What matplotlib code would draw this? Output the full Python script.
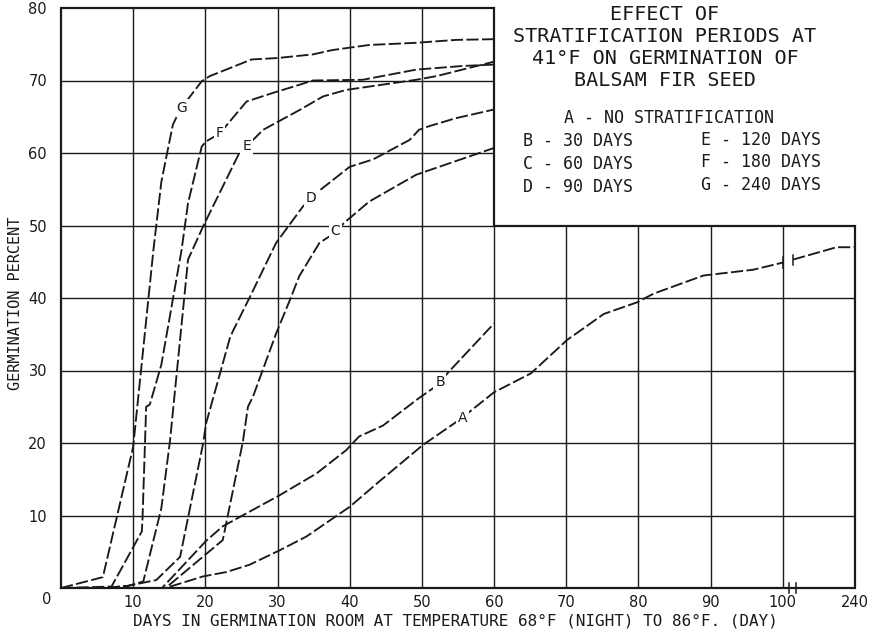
import numpy as np
import matplotlib
matplotlib.use("Agg")
import matplotlib.pyplot as plt

# ---------------- data (days, germination percent) ----------------
days_A = [0, 14.5, 19.7, 22.9, 26.1, 30.3, 34, 40, 44.1, 50.1, 55.2, 60, 65.1, 70.1,
          75.2, 79.8, 82.1, 89, 95.9, 101]
pct_A = [0, 0, 1.6, 2.2, 3.2, 5.2, 7.1, 11.2, 14.7, 19.7, 23.2, 27, 29.6, 34.2,
         37.8, 39.4, 40.6, 43.1, 43.9, 44.9]
days_A_tail = [120, 204, 240]
pct_A_tail = [45.3, 47, 47]

days_B = [0, 14, 20.1, 22.4, 25.7, 30.3, 35.4, 39.5, 41.3, 44.6, 49.6, 51.9, 53.8, 60]
pct_B = [0, 0, 6.5, 8.5, 10.3, 12.8, 15.8, 19, 20.9, 22.4, 26.2, 27.8, 29.9, 36.5]

days_C = [0, 14.5, 22.4, 22.7, 25.2, 25.9, 26.6, 29.8, 31.7, 33, 35.8, 37.2, 39.5,
          42.7, 49.2, 60]
pct_C = [0, 0, 6.6, 8, 20.2, 25, 26.4, 35.1, 39.7, 43, 47.6, 48.5, 50.6,
         53.3, 57, 60.7]

days_D = [0, 6, 9.3, 13.2, 16.5, 19.7, 20.1, 23.4, 23.8, 26.1, 29.8, 33.5, 35.4, 40,
          43.2, 48.3, 49.6, 51, 54.7, 60]
pct_D = [0, 0, 0.3, 1.1, 4.3, 20, 22.7, 34.5, 35.4, 40, 47.6, 52.6, 54.5, 58.1,
         59.1, 61.8, 63.2, 63.7, 64.8, 66]

days_E = [0, 6, 9.3, 11.4, 13.9, 15.1, 17.6, 19.7, 24.7, 26.6, 28, 33, 36.3, 39.5,
          49.2, 52, 60]
pct_E = [0, 0, 0.3, 0.9, 11, 20.3, 45.3, 49.9, 60, 61.8, 63.2, 65.9, 67.8, 68.7,
         70.1, 70.6, 72.6]

days_F = [0, 7, 11.2, 11.3, 11.8, 12.3, 13.9, 16.7, 17.6, 19.5, 20.1, 22, 25.7,
          29.4, 33, 34.9, 41.8, 49.2, 55.6, 60]
pct_F = [0, 0.2, 7.8, 9.8, 25, 25.3, 30.8, 46.6, 53.1, 60.9, 61.6, 62.7, 67.1,
         68.3, 69.4, 70, 70.1, 71.5, 72, 72.2]

days_G = [0, 5.8, 10, 12.8, 13.9, 14.6, 15.5, 16.5, 19.5, 20.6, 26.4, 30, 34.9,
          37.6, 42.7, 49.2, 54.7, 60]
pct_G = [0, 1.5, 19.5, 46.6, 56, 59.5, 63.9, 66, 69.9, 70.6, 72.9, 73.1, 73.6,
         74.2, 74.9, 75.2, 75.6, 75.7]

curve_names = ["A", "B", "C", "D", "E", "F", "G"]
label_days = [55.6, 52.5, 38.0, 34.7, 25.7, 22.0, 16.7]

x_ticks = [10, 20, 30, 40, 50, 60, 70, 80, 90, 100, 240]
y_ticks = [10, 20, 30, 40, 50, 60, 70, 80]

title_lines = ["EFFECT OF", "STRATIFICATION PERIODS AT",
               "41°F ON GERMINATION OF", "BALSAM FIR SEED"]
legend_top = "A - NO STRATIFICATION"
legend_left = ["B - 30 DAYS", "C - 60 DAYS", "D - 90 DAYS"]
legend_right = ["E - 120 DAYS", "F - 180 DAYS", "G - 240 DAYS"]
x_label = "DAYS IN GERMINATION ROOM AT TEMPERATURE 68°F (NIGHT) TO 86°F. (DAY)"
y_label = "GERMINATION PERCENT"

# ---------------- figure ----------------
W, H = 880, 632
MONO = "DejaVu Sans Mono"
fig = plt.figure(figsize=(W / 100, H / 100), dpi=100)
ax = fig.add_axes([61 / W, 1 - 588 / H, (855 - 61) / W, (588 - 8) / H])


def fwd(d):
    d = np.asarray(d, dtype=float)
    return np.where(d <= 100, d, 100 + (d - 100) / 14.0)


def inv(p):
    p = np.asarray(p, dtype=float)
    return np.where(p <= 100, p, 100 + (p - 100) * 14.0)


ax.set_xscale("function", functions=(fwd, inv))
ax.set_xlim(0, 240)
ax.set_ylim(0, 80)
for s in ax.spines.values():
    s.set_visible(False)

ink = "#1a1a1a"
glw = 1.0
# interior grid
ax.vlines([10, 20, 30, 40, 50], 0, 80, color=ink, lw=glw, zorder=1)
ax.vlines([70, 80, 90, 100], 0, 50, color=ink, lw=glw, zorder=1)
ax.hlines([10, 20, 30, 40], 0, 240, color=ink, lw=glw, zorder=1)
ax.hlines([50, 60, 70], 0, 60, color=ink, lw=glw, zorder=1)
ax.vlines([60], 0, 50, color=ink, lw=glw, zorder=1)
# stepped outline
ox = [0, 0, 60, 60, 240, 240, 0]
oy = [0, 80, 80, 50, 50, 0, 0]
ax.plot(ox, oy, color=ink, lw=1.6, zorder=2, clip_on=False, solid_joinstyle="miter")

dash = (0, (6.5, 1.8))
lw = 1.35
series = [(days_A, pct_A), (days_B, pct_B), (days_C, pct_C), (days_D, pct_D),
          (days_E, pct_E), (days_F, pct_F), (days_G, pct_G)]
for d, p in series:
    ax.plot(d, p, color=ink, lw=lw, ls=dash, zorder=3, clip_on=False)
ax.plot(days_A_tail, pct_A_tail, color=ink, lw=lw, ls=dash, zorder=3, clip_on=False)

# break marks (on curve A and on the axis)
for xb in [101, 120]:
    yb = np.interp(fwd(xb), fwd(days_A + days_A_tail), pct_A + pct_A_tail)
    ax.plot([xb, xb], [yb - 0.7, yb + 0.7], color=ink, lw=1.1, zorder=4)
for xb in [112, 126]:
    ax.plot([xb, xb], [-0.7, 0.7], color=ink, lw=1.1, zorder=4, clip_on=False)

# curve letters
for name, (d, p), xl in zip(curve_names, series, label_days):
    yl = np.interp(xl, d, p)
    ax.text(xl, yl, name, fontsize=10, ha="center", va="center", color=ink, zorder=5,
            bbox=dict(boxstyle="square,pad=0.12", fc="white", ec="none"))

# ticks
ax.set_xticks(x_ticks)
ax.set_xticklabels([str(t) for t in x_ticks])
ax.set_yticks(y_ticks)
ax.set_yticklabels([str(t) for t in y_ticks])
ax.tick_params(axis="both", length=0, labelsize=10.5, colors=ink)
ax.tick_params(axis="x", pad=5)
ax.tick_params(axis="y", pad=10)
ax.minorticks_off()

fig.text(47 / W, 1 - 599 / H, "0", fontsize=10.5, ha="center", va="center", color=ink)

fig.text(455 / W, 1 - 621 / H, x_label, fontsize=11.5, family=MONO,
         ha="center", va="center", color=ink)
fig.text(16 / W, 1 - 303 / H, y_label, fontsize=11, family=MONO, ha="center",
         va="center", rotation=90, color=ink)

# title block
ty = [15, 37, 59, 81]
for t, yy in zip(title_lines, ty):
    fig.text(665 / W, 1 - yy / H, t, fontsize=14.5, family=MONO,
             ha="center", va="center", color=ink)

fig.text(669 / W, 1 - 118 / H, legend_top, fontsize=12, family=MONO,
         ha="center", va="center", color=ink)
for t, yy in zip(legend_left, [141, 164, 187]):
    fig.text(523 / W, 1 - yy / H, t, fontsize=12, family=MONO,
             ha="left", va="center", color=ink)
for t, yy in zip(legend_right, [140, 162, 185]):
    fig.text(701 / W, 1 - yy / H, t, fontsize=12, family=MONO,
             ha="left", va="center", color=ink)

fig.savefig("out.png", dpi=100, facecolor="white")
